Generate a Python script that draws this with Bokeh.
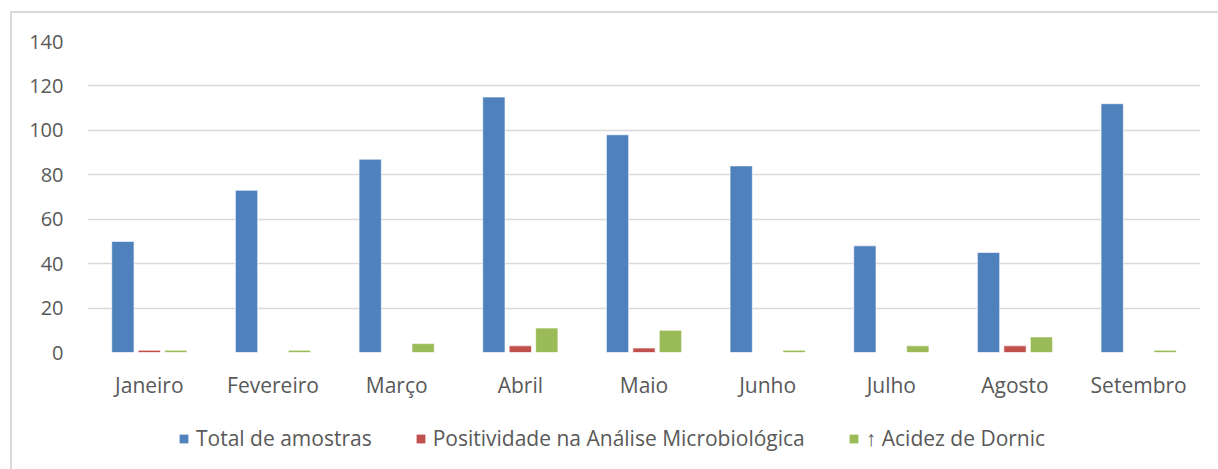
from bokeh.plotting import figure
from bokeh.layouts import column
from bokeh.models import FactorRange, Range1d, ColumnDataSource, Legend, LegendItem, FixedTicker
from bokeh.transform import dodge
from bokeh.embed import file_html
from bokeh.resources import INLINE

months = ["Janeiro", "Fevereiro", "Março", "Abril", "Maio", "Junho", "Julho", "Agosto", "Setembro"]
total = [50, 73, 87, 115, 98, 84, 48, 45, 112]
positividade = [1, 0, 0, 3, 2, 0, 0, 3, 0]
acidez = [1, 1, 4, 11, 10, 1, 3, 7, 1]
series_names = ["Total de amostras", "Positividade na Análise Microbiológica", "↑ Acidez de Dornic"]
colors = ["#4F81BD", "#C0504D", "#9BBB59"]
y_ticks = [0, 20, 40, 60, 80, 100, 120, 140]

src = ColumnDataSource(dict(month=months, total=total, pos=positividade, acid=acidez))

FONT = "Open Sans"
TXT = "#595959"
GRID = "#D9D9D9"

# ---- main chart ----
p = figure(x_range=FactorRange(*months, range_padding=0), y_range=Range1d(0, 140),
           width=1218, height=405, output_backend="svg", toolbar_location=None,
           min_border_left=87, min_border_right=18, min_border_top=41, min_border_bottom=53)
p.outline_line_color = None
p.background_fill_color = "white"
p.border_fill_color = None
p.styles = {
    "background": f"linear-gradient({GRID},{GRID}) 10px 11px / 2px 100% no-repeat, "
                  f"linear-gradient({GRID},{GRID}) 10px 11px / 100% 2px no-repeat, white"
}

p.vbar(x=dodge("month", -0.214, range=p.x_range), top="total", width=0.18, source=src,
       fill_color=colors[0], line_color="white", line_alpha=0.6, line_width=1)
p.vbar(x=dodge("month", 0.0, range=p.x_range), top="pos", width=0.18, source=src,
       fill_color=colors[1], line_color="white", line_alpha=0.6, line_width=1)
p.vbar(x=dodge("month", 0.214, range=p.x_range), top="acid", width=0.18, source=src,
       fill_color=colors[2], line_color="white", line_alpha=0.6, line_width=1)

p.xgrid.grid_line_color = None
p.ygrid.grid_line_color = GRID
p.ygrid.grid_line_width = 1.5
p.yaxis.ticker = FixedTicker(ticks=y_ticks)

for ax in (p.xaxis, p.yaxis):
    ax.axis_line_color = None
    ax.major_tick_line_color = None
    ax.minor_tick_line_color = None
    ax.major_tick_out = 0
    ax.major_tick_in = 0
    ax.minor_tick_out = 0
    ax.major_label_text_font = FONT
    ax.major_label_text_color = TXT
p.yaxis.major_label_text_font_size = "20px"
p.xaxis.major_label_text_font_size = "21px"
p.yaxis.major_label_standoff = 24
p.xaxis.major_label_standoff = 18

# ---- legend strip (its frame is aligned with the main chart's frame) ----
p2 = figure(width=1218, height=64, x_range=Range1d(0, 1), y_range=Range1d(0, 1),
            output_backend="svg", toolbar_location=None,
            x_axis_location=None, y_axis_location=None, min_border=0)
p2.grid.visible = False
p2.outline_line_color = None
p2.background_fill_color = None
p2.border_fill_color = None
p2.styles = {
    "background": f"linear-gradient({GRID},{GRID}) 10px 0px / 2px 100% no-repeat, white"
}
# legend proxies for the three series (hidden; only their legend swatches are shown)
lr = [p2.vbar(x="total", top="total", width=0.1, source=src, fill_color=c,
              line_color=None, visible=False)
      for c in colors]

legend = Legend(items=[LegendItem(label=n, renderers=[r]) for n, r in zip(series_names, lr)],
                orientation="horizontal", location=(91, 17),
                label_text_font=FONT, label_text_font_size="21px", label_text_color=TXT,
                glyph_width=11, glyph_height=11, spacing=43, label_standoff=7,
                inactive_fill_alpha=0,
                border_line_color=None, background_fill_alpha=0, margin=0, padding=4)
p2.add_layout(legend, "center")

layout = column(p, p2, spacing=0)
open("out.html", "w").write(file_html(layout, INLINE))
